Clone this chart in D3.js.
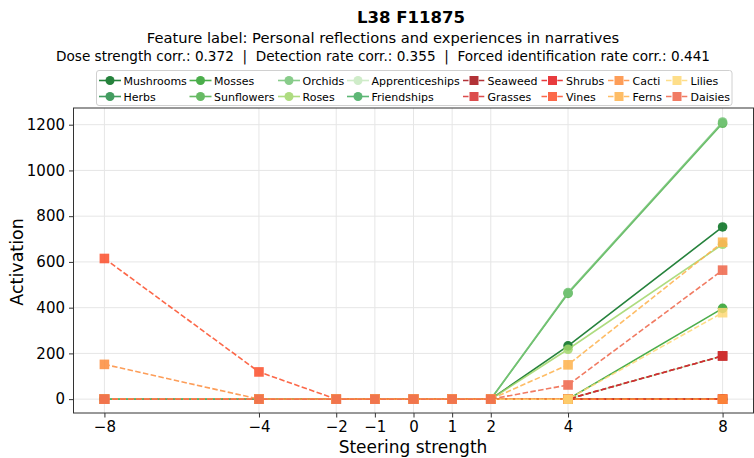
<!DOCTYPE html>
<html>
<head>
<meta charset="utf-8">
<script src="https://cdn.jsdelivr.net/npm/d3@7"></script>
<style>
  body { margin: 0; background: #fff; }
  svg { font-family: "DejaVu Sans", sans-serif; }
</style>
</head>
<body>
<div id="chart"></div>
<script>
// steering strengths on the x axis
var steps = [-8, -4, -2, -1, 0, 1, 2, 4, 8];
var yTicks = [0, 200, 400, 600, 800, 1000, 1200];

// activation per series, one value per step
var mushrooms       = [0, 0, 0, 0, 0, 0, 0, 233, 753];
var herbs           = [0, 0, 0, 0, 0, 0, 0, 0, 0];
var mosses          = [0, 0, 0, 0, 0, 0, 0, 0, 397];
var sunflowers      = [0, 0, 0, 0, 0, 0, 0, 462, 1206];
var orchids         = [0, 0, 0, 0, 0, 0, 0, 466, 1212];
var roses           = [0, 0, 0, 0, 0, 0, 0, 218, 677];
var apprenticeships = [0, 0, 0, 0, 0, 0, 0, 0, 189];
var friendships     = [0, 0, 0, 0, 0, 0, 0, 0, 0];
var seaweed         = [0, 0, 0, 0, 0, 0, 0, 0, 189];
var grasses         = [0, 0, 0, 0, 0, 0, 0, 0, 189];
var shrubs          = [0, 0, 0, 0, 0, 0, 0, 0, 0];
var vines           = [615, 119, 0, 0, 0, 0, 0, 0, 0];
var cacti           = [152, 0, 0, 0, 0, 0, 0, 0, 0];
var ferns           = [0, 0, 0, 0, 0, 0, 0, 150, 686];
var lilies          = [0, 0, 0, 0, 0, 0, 0, 0, 378];
var daisies         = [0, 0, 0, 0, 0, 0, 0, 62, 564];

var names = ["Mushrooms", "Herbs", "Mosses", "Sunflowers", "Orchids", "Roses", "Apprenticeships", "Friendships",
             "Seaweed", "Grasses", "Shrubs", "Vines", "Cacti", "Ferns", "Lilies", "Daisies"];
var values = [mushrooms, herbs, mosses, sunflowers, orchids, roses, apprenticeships, friendships,
              seaweed, grasses, shrubs, vines, cacti, ferns, lilies, daisies];
var colors = ["#006d1b", "#238b45", "#2ca02c", "#4daf4a", "#74c476", "#a1d76a", "#c7e9c0", "#41ab5d",
              "#a50f15", "#d62f2f", "#e41a1c", "#fc4e2a", "#fd8d3c", "#feb24c", "#fed976", "#ef6548"];

var series = names.map(function(n, i) {
    return { name: n, values: values[i], color: colors[i], concept: i < 8 };
});

var W = 754, H = 458;
var margin = { left: 73.5, right: 0.5, top: 108, bottom: 45 };

var svg = d3.select("#chart").append("svg")
    .attr("width", W)
    .attr("height", H);

var x = d3.scaleLinear().domain([-8.8, 8.8]).range([margin.left, W - margin.right]);
var y = d3.scaleLinear().domain([-60.6, 1273]).range([H - margin.bottom, margin.top]);

// titles
svg.append("text").attr("x", 411).attr("y", 23).attr("text-anchor", "middle")
    .style("font-size", "16.5px").style("font-weight", "bold").text("L38 F11875");
svg.append("text").attr("x", 383).attr("y", 42.5).attr("text-anchor", "middle")
    .style("font-size", "14.7px").text("Feature label: Personal reflections and experiences in narratives");
svg.append("text").attr("x", 383).attr("y", 61).attr("text-anchor", "middle")
    .style("font-size", "13.6px").style("white-space", "pre")
    .text("Dose strength corr.: 0.372  |  Detection rate corr.: 0.355  |  Forced identification rate corr.: 0.441");

// grid
svg.append("g").selectAll("line").data(yTicks).enter().append("line")
    .attr("x1", x.range()[0]).attr("x2", x.range()[1])
    .attr("y1", function(d) { return y(d); }).attr("y2", function(d) { return y(d); })
    .style("stroke", "#e6e6e6").style("stroke-width", 1);
svg.append("g").selectAll("line").data(steps).enter().append("line")
    .attr("y1", y.range()[0]).attr("y2", y.range()[1])
    .attr("x1", function(d) { return x(d); }).attr("x2", function(d) { return x(d); })
    .style("stroke", "#e6e6e6").style("stroke-width", 1);

// lines + markers
var line = d3.line()
    .x(function(d, i) { return x(steps[i]); })
    .y(function(d) { return y(d); });

var g = svg.append("g");
series.forEach(function(s) {
    var sg = g.append("g").style("opacity", 0.85);
    sg.append("path")
        .attr("d", line(s.values))
        .style("fill", "none")
        .style("stroke", s.color)
        .style("stroke-width", 1.6)
        .style("stroke-dasharray", s.concept ? null : "5.5,2.4");
    if (s.concept) {
        sg.selectAll("circle").data(s.values).enter().append("circle")
            .attr("cx", function(d, i) { return x(steps[i]); })
            .attr("cy", function(d) { return y(d); })
            .attr("r", 4.8)
            .style("fill", s.color);
    } else {
        sg.selectAll("rect").data(s.values).enter().append("rect")
            .attr("x", function(d, i) { return x(steps[i]) - 4.8; })
            .attr("y", function(d) { return y(d) - 4.8; })
            .attr("width", 9.6).attr("height", 9.6)
            .style("fill", s.color);
    }
});

// axes
var fmt = function(d) { return d < 0 ? "\u2212" + Math.abs(d) : String(d); };
var xAxis = svg.append("g").attr("transform", "translate(0," + y.range()[0] + ")")
    .call(d3.axisBottom(x).tickValues(steps).tickFormat(fmt).tickSize(4.5).tickPadding(4));
var yAxis = svg.append("g").attr("transform", "translate(" + x.range()[0] + ",0)")
    .call(d3.axisLeft(y).tickValues(yTicks).tickFormat(d3.format("d")).tickSize(4.5).tickPadding(4));
[xAxis, yAxis].forEach(function(a) {
    a.select(".domain").remove();
    a.selectAll("text").style("font-size", "15px").style("font-family", "DejaVu Sans").attr("fill", "#000");
    a.selectAll("line").style("stroke", "#333");
});
svg.append("rect")
    .attr("x", x.range()[0]).attr("y", y.range()[1])
    .attr("width", x.range()[1] - x.range()[0]).attr("height", y.range()[0] - y.range()[1])
    .style("fill", "none").style("stroke", "#333").style("stroke-width", 1);

svg.append("text").attr("x", 413).attr("y", 453).attr("text-anchor", "middle")
    .style("font-size", "17px").text("Steering strength");
svg.append("text").attr("transform", "translate(22.5," + y(600) + ") rotate(-90)")
    .attr("text-anchor", "middle").style("font-size", "17.5px").text("Activation");

// legend
var legX = [99, 189.5, 278, 347, 463, 541.5, 608, 666];
var legY = [80.5, 96.5];
svg.append("rect").attr("x", 96.5).attr("y", 70.5).attr("width", 635.5).attr("height", 35)
    .attr("rx", 2.5).style("fill", "#fff").style("stroke", "#d0d0d0").style("stroke-width", 1);
series.forEach(function(s, i) {
    var lx = legX[Math.floor(i / 2)], ly = legY[i % 2];
    var lg = svg.append("g").style("opacity", 0.85);
    lg.append("line").attr("x1", lx).attr("x2", lx + 22).attr("y1", ly).attr("y2", ly)
        .style("stroke", s.color).style("stroke-width", 1.6)
        .style("stroke-dasharray", s.concept ? null : "5.5,2.4");
    if (s.concept) {
        lg.append("circle").attr("cx", lx + 11).attr("cy", ly).attr("r", 4.5).style("fill", s.color);
    } else {
        lg.append("rect").attr("x", lx + 6.5).attr("y", ly - 4.5).attr("width", 9).attr("height", 9)
            .style("fill", s.color);
    }
    svg.append("text").attr("x", lx + 24.5).attr("y", ly + 4)
        .style("font-size", "11px").text(s.name);
});
</script>
</body>
</html>
